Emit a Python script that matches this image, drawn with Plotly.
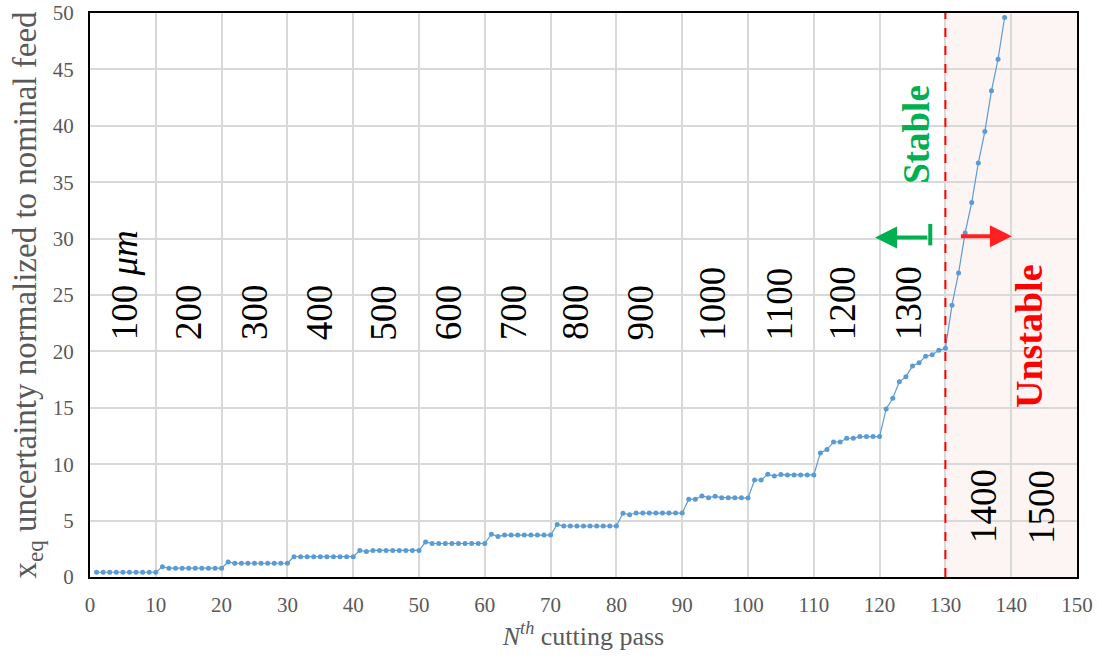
import plotly.graph_objects as go

# ---- data ----
passes = list(range(1, 140))
uncertainty = [
    0.42, 0.42, 0.42, 0.42, 0.42, 0.42, 0.42, 0.42, 0.42, 0.42,
    0.90, 0.78, 0.78, 0.78, 0.78, 0.78, 0.78, 0.78, 0.78, 0.78,
    1.33, 1.22, 1.22, 1.22, 1.22, 1.22, 1.22, 1.22, 1.22, 1.22,
    1.80, 1.80, 1.80, 1.80, 1.80, 1.80, 1.80, 1.80, 1.80, 1.80,
    2.36, 2.25, 2.36, 2.36, 2.36, 2.36, 2.36, 2.36, 2.36, 2.36,
    3.10, 2.97, 2.97, 2.97, 2.97, 2.97, 2.97, 2.97, 2.97, 2.97,
    3.80, 3.60, 3.72, 3.72, 3.72, 3.72, 3.72, 3.72, 3.72, 3.72,
    4.65, 4.52, 4.52, 4.52, 4.52, 4.52, 4.52, 4.52, 4.52, 4.52,
    5.65, 5.52, 5.67, 5.67, 5.67, 5.67, 5.67, 5.67, 5.67, 5.67,
    6.90, 6.90, 7.18, 7.03, 7.15, 7.03, 7.03, 7.03, 7.03, 7.00,
    8.60, 8.60, 9.10, 8.95, 9.08, 9.05, 9.05, 9.05, 9.05, 9.05,
    11.0, 11.3, 11.97, 11.97, 12.3, 12.3, 12.45, 12.45, 12.45, 12.45,
    14.9, 15.84, 17.3, 17.76, 18.7, 19.0, 19.56, 19.7, 20.1, 20.27,
    24.1, 26.95, 30.5, 33.2, 36.7, 39.5, 43.1, 45.9, 49.6,
]

feed_labels = ["100 <i>μm</i>", "200", "300", "400", "500", "600", "700",
               "800", "900", "1000", "1100", "1200", "1300"]
feed_label_x = [5.3, 15, 25, 34.8, 44.6, 54.4, 64.4, 73.8, 83.6, 94.6, 104.8, 114.4, 124.4]
feed_label_y = 20.8
unstable_labels = ["1400", "1500"]
unstable_label_x = [135.8, 144.6]
unstable_label_y = 2.8

stability_limit = 130
x_max = 150
y_max = 50
x_ticks = list(range(0, 151, 10))
y_ticks = list(range(0, 51, 5))

SERIF = "Liberation Serif"
GRAY = "#595959"

fig = go.Figure()

fig.add_trace(go.Scatter(
    x=passes, y=uncertainty, mode="lines+markers",
    line=dict(color="#5B9BD5", width=1.2),
    marker=dict(color="#5B9BD5", size=5),
    showlegend=False, cliponaxis=False,
))

# unstable region shading and limit line
fig.add_shape(type="rect", xref="x", yref="y", x0=stability_limit, x1=x_max, y0=0, y1=y_max,
              fillcolor="rgb(253,244,244)", line=dict(width=0), layer="below")
fig.add_shape(type="line", xref="x", yref="y", x0=stability_limit, x1=stability_limit, y0=0, y1=y_max,
              line=dict(color="#FF0000", width=2, dash="dash"))

annotations = []
for lab, xv in zip(feed_labels, feed_label_x):
    annotations.append(dict(x=xv, y=feed_label_y, text=lab, showarrow=False, textangle=-90,
                            xanchor="center", yanchor="bottom",
                            font=dict(family=SERIF, size=37, color="black")))
for lab, xv in zip(unstable_labels, unstable_label_x):
    annotations.append(dict(x=xv, y=unstable_label_y, text=lab, showarrow=False, textangle=-90,
                            xanchor="center", yanchor="bottom",
                            font=dict(family=SERIF, size=37, color="black")))

annotations.append(dict(x=125.5, y=34.7, text="<b>Stable</b>", showarrow=False, textangle=-90,
                        xanchor="center", yanchor="bottom",
                        font=dict(family=SERIF, size=37, color="#00B050")))
annotations.append(dict(x=142.7, y=14.8, text="<b>Unstable</b>", showarrow=False, textangle=-90,
                        xanchor="center", yanchor="bottom",
                        font=dict(family=SERIF, size=38, color="#FF0000")))

# arrows
annotations.append(dict(x=119.3, y=30.1, ax=127.7, ay=30.1, xref="x", yref="y", axref="x", ayref="y",
                        text=" ", showarrow=True, arrowhead=2, arrowsize=1.1, arrowwidth=4,
                        arrowcolor="#00B050"))
annotations.append(dict(x=140.1, y=30.2, ax=131.9, ay=30.2, xref="x", yref="y", axref="x", ayref="y",
                        text=" ", showarrow=True, arrowhead=2, arrowsize=1.1, arrowwidth=4,
                        arrowcolor="#FF2020"))
fig.add_shape(type="line", xref="x", yref="y", x0=127.7, x1=127.7, y0=29.4, y1=31.3,
              line=dict(color="#00B050", width=4))

fig.update_layout(
    width=1102, height=660,
    margin=dict(l=90, r=25, t=13, b=83),
    plot_bgcolor="white", paper_bgcolor="white",
    annotations=annotations,
    font=dict(family=SERIF, color=GRAY),
)

fig.update_xaxes(
    range=[0, x_max], tickvals=x_ticks, ticks="",
    showgrid=True, gridcolor="#D9D9D9", gridwidth=2,
    showline=True, linecolor="black", linewidth=2, mirror=True,
    zeroline=False, automargin=False, ticklabelstandoff=8,
    tickfont=dict(family=SERIF, size=21, color=GRAY),
    title=dict(text="<i>N<sup>th</sup></i> cutting pass",
               font=dict(family=SERIF, size=26, color=GRAY), standoff=11),
)
fig.update_yaxes(
    range=[0, y_max], tickvals=y_ticks, ticks="",
    showgrid=True, gridcolor="#D9D9D9", gridwidth=2,
    showline=True, linecolor="black", linewidth=2, mirror=True,
    zeroline=False, automargin=False, ticklabelstandoff=10,
    tickfont=dict(family=SERIF, size=21, color=GRAY),
    title=dict(text="x<sub>eq</sub> uncertainty normalized to nominal feed",
               font=dict(family=SERIF, size=33, color=GRAY), standoff=6),
)

fig.write_html("out.html")
